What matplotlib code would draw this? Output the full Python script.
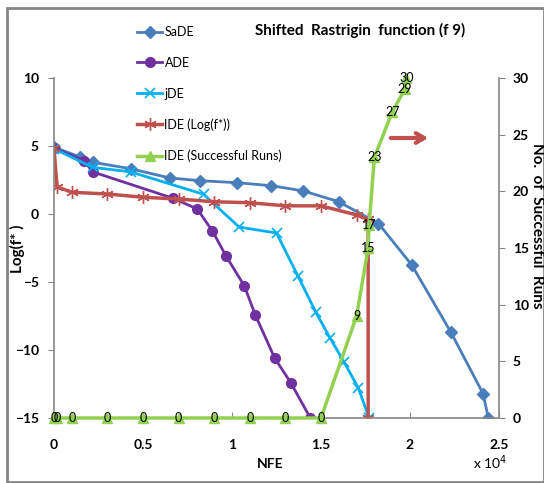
import matplotlib
matplotlib.use("Agg")
import matplotlib.pyplot as plt
from matplotlib.patches import Rectangle

plt.rcParams['font.family'] = ['Lato', 'DejaVu Sans']

# ---- data (NFE in units of 1e4) ----
sade_x = [0, 0.147, 0.22, 0.43, 0.65, 0.82, 1.03, 1.22, 1.40, 1.60, 1.823, 2.01, 2.23, 2.41, 2.44]
sade_y = [4.9, 4.2, 3.8, 3.33, 2.65, 2.45, 2.3, 2.08, 1.7, 0.9, -0.7, -3.75, -8.7, -13.2, -15]

ade_x = [0, 0.17, 0.217, 0.67, 0.805, 0.89, 0.967, 1.07, 1.13, 1.24, 1.33, 1.44]
ade_y = [4.85, 3.9, 3.1, 1.15, 0.37, -1.25, -3.1, -5.3, -7.4, -10.6, -12.4, -15]

jde_x = [0, 0.217, 0.43, 0.84, 1.04, 1.25, 1.37, 1.47, 1.55, 1.63, 1.71, 1.77]
jde_y = [4.8, 3.43, 3.1, 1.45, -0.96, -1.4, -4.55, -7.2, -9.1, -10.9, -12.8, -15]

ide_x = [0, 0.017, 0.1, 0.3, 0.5, 0.7, 0.9, 1.1, 1.3, 1.5, 1.7, 1.765, 1.765]
ide_y = [4.83, 2.0, 1.6, 1.47, 1.23, 1.1, 0.9, 0.83, 0.6, 0.6, -0.07, -0.4, -15]

succ_x = [0, 0.017, 0.1, 0.3, 0.5, 0.7, 0.9, 1.1, 1.3, 1.5, 1.7, 1.765, 1.77, 1.8, 1.9, 1.97, 1.98]
succ_y = [0, 0, 0, 0, 0, 0, 0, 0, 0, 0, 9, 15, 17, 23, 27, 29, 30]

xticks = [0, 0.5, 1, 1.5, 2, 2.5]
xtick_labels = ['0', '0.5', '1', '1.5', '2', '2.5']
yticks_left = [10, 5, 0, -5, -10, -15]
yticks_right = [0, 5, 10, 15, 20, 25, 30]

W, H = 544, 483
fig = plt.figure(figsize=(W / 100, H / 100), dpi=100)
L, R, T, B = 54, 499, 78, 418
ax = fig.add_axes([L / W, 1 - B / H, (R - L) / W, (B - T) / H])
ax2 = ax.twinx()

c_sade = '#4A7EBB'
c_ade = '#7030A0'
c_jde = '#00B0F0'
c_ide = '#C0504D'
c_succ = '#92D050'
gray = '#868686'

ax.plot(sade_x, sade_y, color=c_sade, lw=2, marker='D', ms=6, label='SaDE')
ax.plot(ade_x, ade_y, color=c_ade, lw=2, marker='o', ms=7, label='ADE')
ax.plot(jde_x, jde_y, color=c_jde, lw=2, marker='x', ms=7, mew=1.2, label='jDE')
ax.plot(ide_x, ide_y, color=c_ide, lw=2.5, marker=(6, 2, 0), ms=9, mew=1, label='IDE (Log(f*))')
ax2.plot(succ_x, succ_y, color=c_succ, lw=2.5, marker='^', ms=7, label='IDE (Successful Runs)',
         clip_on=False, zorder=3)
for x, y in zip(succ_x, succ_y):
    ax2.text(x, y, str(y), ha='center', va='center', fontsize=9, color='black', zorder=5)

ax.set_xlim(0, 2.5)
ax.set_ylim(-15, 10)
ax2.set_ylim(0, 30)
ax.set_xticks(xticks)
ax.set_xticklabels(xtick_labels)
ax.set_yticks(yticks_left)
ax2.set_yticks(yticks_right)

for a in (ax, ax2):
    a.spines['top'].set_visible(False)
    for s in ('left', 'right', 'bottom'):
        a.spines[s].set_color(gray)
        a.spines[s].set_linewidth(1.2)
ax.spines['right'].set_visible(False)
ax2.spines['left'].set_visible(False)
ax2.spines['bottom'].set_visible(False)

ax.tick_params(axis='y', direction='out', length=4, color=gray, pad=7, labelsize=10)
ax.tick_params(axis='x', direction='in', length=4, color=gray, pad=15, labelsize=10)
ax2.tick_params(axis='y', direction='out', length=4, color=gray, pad=6, labelsize=10)
for lab in ax.get_xticklabels() + ax.get_yticklabels() + ax2.get_yticklabels():
    lab.set_fontweight('bold')

fig.text(17 / W, 1 - 249 / H, 'Log(f* )', rotation=90, ha='center', va='center',
         fontsize=11, fontweight='bold')
fig.text(537 / W, 1 - 226 / H, 'No.  of  Successful  Runs', rotation=270, ha='center', va='center',
         fontsize=11, fontweight='bold')
fig.text(270 / W, 1 - 464 / H, 'NFE', ha='center', va='center', fontsize=10, fontweight='bold')
fig.text(490 / W, 1 - 463 / H, r'x 10$^{4}$', ha='center', va='center', fontsize=10)
fig.text(360 / W, 1 - 30 / H, 'Shifted  Rastrigin  function (f 9)', ha='center', va='center',
         fontsize=11, fontweight='bold')

h1, l1 = ax.get_legend_handles_labels()
h2, l2 = ax2.get_legend_handles_labels()
fig.legend(h1 + h2, l1 + l2, loc='upper left', bbox_to_anchor=(132 / W, 1 - 21 / H),
           frameon=False, fontsize=9, labelspacing=1.5, handlelength=2.0, handletextpad=0.2,
           borderaxespad=0)

ax.annotate('', xy=(431, H - 138), xytext=(388, H - 138), xycoords='figure pixels',
            textcoords='figure pixels',
            arrowprops=dict(arrowstyle='->,head_length=0.6,head_width=0.35', color=c_ide, lw=3))

fig.patches.append(Rectangle((7 / W, 1 - 482 / H), (W - 7) / W, (482 - 8) / H,
                             transform=fig.transFigure, fill=False, edgecolor=gray, lw=2))

fig.savefig('out.png', dpi=100)
